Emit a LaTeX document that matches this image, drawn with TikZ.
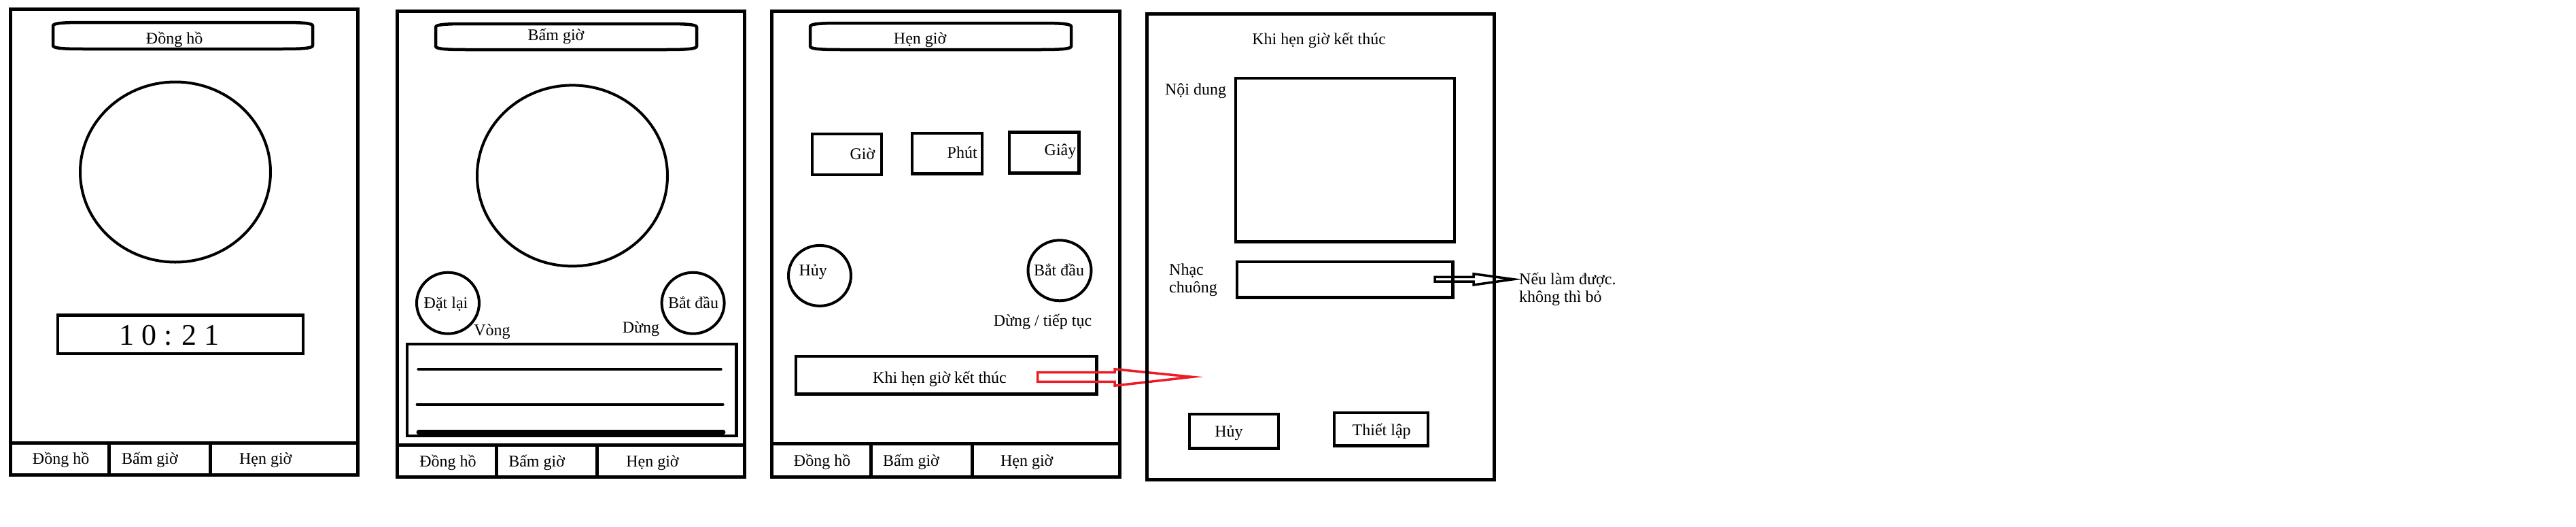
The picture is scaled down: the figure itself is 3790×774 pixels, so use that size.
\documentclass[tikz,border=0pt]{standalone}
\usepackage{fontspec}
\setmainfont{Liberation Serif}
\usetikzlibrary{shapes.geometric,calc}
\definecolor{paintred}{RGB}{237,28,36}
\tikzset{
  frame/.style={draw, line width=5pt, inner sep=0pt, outer sep=0pt},
  wbox/.style={draw, line width=4.5pt, inner sep=0pt, outer sep=0pt},
  dial/.style={draw, ellipse, line width=4pt, inner sep=0pt},
  btn/.style={draw, ellipse, line width=4pt, inner sep=0pt},
  pillline/.style={line width=4.5pt},
  txt/.style={inner sep=0pt, anchor=base, font=\fontsize{24}{27}\selectfont},
  ltxt/.style={txt, anchor=base west},
  bigtxt/.style={inner sep=0pt, anchor=base, font=\fontsize{44}{48}\selectfont},
  listline/.style={line width=4pt, line cap=round},
  hollowarrow/.style={line width=3.5pt, line join=miter},
}
\newcommand\wfbox[6]{%
  \pgfmathsetmacro\wfw{#4-#2}\pgfmathsetmacro\wfh{#5-#3}%
  \pgfmathsetmacro\wfx{(#2+#4)/2}\pgfmathsetmacro\wfy{(#3+#5)/2}%
  \node[#6, minimum width=\wfw pt, minimum height=\wfh pt] (#1) at (\wfx,\wfy) {};}
\newcommand\wfpill[5]{%
  \draw[pillline] (#2,{#3+5}) .. controls (#2,{#3+1}) and ({#2+15},#3) .. ({#2+45},#3)
    -- ({#4-45},#3) .. controls ({#4-15},#3) and (#4,{#3+1}) .. (#4,{#3+5})
    -- (#4,{#5-5}) .. controls (#4,{#5-1}) and ({#4-15},#5) .. ({#4-45},#5)
    -- ({#2+45},#5) .. controls ({#2+15},#5) and (#2,{#5-1}) .. (#2,{#5-5}) -- cycle;
  \coordinate (#1) at ({(#2+#4)/2},{(#3+#5)/2});}
\begin{document}
\begin{tikzpicture}[x=1pt,y=-1pt]
\useasboundingbox (0,0) rectangle (3790,774);
\fill[white] (0,0) rectangle (3790,774);

% ---------------- Screen 1 : Dong ho ----------------
\wfbox{sa}{15.7}{13.5}{526}{651.5}{frame}
\wfbox{sa-tab1}{15.7}{651.5}{160}{698}{frame}
\wfbox{sa-tab2}{160}{651.5}{309}{698}{frame}
\wfbox{sa-tab3}{309}{651.5}{526}{698}{frame}
\wfpill{sa-pill}{78}{33}{460}{72}
\node[txt] (sa-title) at (256.6,64) {Đồng hồ};
\node[dial, minimum width=280pt, minimum height=265pt] (sa-dial) at (258,253) {};
\wfbox{sa-time}{85}{463.5}{446}{520}{wbox}
\node[bigtxt] (sa-timetxt) at (249,507) {1 0 : 2 1};
\node[txt] (sa-l1) at (89.6,682) {Đồng hồ};
\node[txt] (sa-l2) at (220.5,682) {Bấm giờ};
\node[txt] (sa-l3) at (390.7,682) {Hẹn giờ};

% ---------------- Screen 2 : Bam gio ----------------
\wfbox{sb}{584}{16.3}{1095.5}{654}{frame}
\wfbox{sb-tab1}{584}{654}{730}{701}{frame}
\wfbox{sb-tab2}{730}{654}{878}{701}{frame}
\wfbox{sb-tab3}{878}{654}{1095.5}{701}{frame}
\wfpill{sb-pill}{641}{35}{1025}{73}
\node[txt] (sb-title) at (818,59) {Bấm giờ};
\node[dial, minimum width=280pt, minimum height=266pt] (sb-dial) at (842,258.4) {};
\node[btn, minimum width=92pt, minimum height=90pt] (sb-reset) at (659,445.7) {};
\node[txt] (sb-resett) at (656,453) {Đặt lại};
\node[btn, minimum width=92pt, minimum height=90pt] (sb-start) at (1019.6,445.7) {};
\node[txt] (sb-startt) at (1020,453) {Bắt đầu};
\node[txt] (sb-lap) at (724,493.6) {Vòng};
\node[txt] (sb-stop) at (943,489.6) {Dừng};
\wfbox{sb-list}{599}{506}{1083.5}{641}{wbox}
\coordinate (sb-a1) at (615.4,543); \coordinate (sb-b1) at (1060.7,543);
\coordinate (sb-a2) at (613.6,594.8); \coordinate (sb-b2) at (1063.6,594.8);
\coordinate (sb-a3) at (616,635.7); \coordinate (sb-b3) at (1064,635.7);
\draw[listline] (sb-a1) -- (sb-b1);
\draw[listline] (sb-a2) -- (sb-b2);
\draw[listline, line width=7pt] (sb-a3) -- (sb-b3);
\node[txt] (sb-l1) at (659,686) {Đồng hồ};
\node[txt] (sb-l2) at (789.6,686) {Bấm giờ};
\node[txt] (sb-l3) at (960,686) {Hẹn giờ};

% ---------------- Screen 3 : Hen gio ----------------
\wfbox{sc}{1135}{16}{1647}{652.5}{frame}
\wfbox{sc-tab1}{1135}{652.5}{1281}{701}{frame}
\wfbox{sc-tab2}{1281}{652.5}{1430}{701}{frame}
\wfbox{sc-tab3}{1430}{652.5}{1647}{701}{frame}
\wfpill{sc-pill}{1192}{34}{1576}{73}
\node[txt] (sc-title) at (1353.6,64) {Hẹn giờ};
\wfbox{sc-h}{1195}{197}{1297}{257}{wbox}
\node[txt] (sc-ht) at (1268.9,234.5) {Giờ};
\wfbox{sc-m}{1342}{196}{1445}{255.5}{wbox}
\node[txt] (sc-mt) at (1415.7,232) {Phút};
\wfbox{sc-s}{1485}{194.5}{1587.5}{254.5}{wbox}
\node[txt] (sc-st) at (1560,228) {Giây};
\node[btn, minimum width=92pt, minimum height=89pt] (sc-cancel) at (1206,405.4) {};
\node[txt] (sc-cancelt) at (1196.2,405) {Hủy};
\node[btn, minimum width=93pt, minimum height=89pt] (sc-start) at (1559,397.8) {};
\node[txt] (sc-startt) at (1558,405.7) {Bắt đầu};
\node[txt] (sc-pause) at (1534,479) {Dừng / tiếp tục};
\wfbox{sc-end}{1171}{524}{1613.5}{579.5}{wbox}
\node[txt] (sc-endt) at (1382.5,563.7) {Khi hẹn giờ kết thúc};
\node[txt] (sc-l1) at (1209.6,685) {Đồng hồ};
\node[txt] (sc-l2) at (1340.5,685) {Bấm giờ};
\node[txt] (sc-l3) at (1510.7,685) {Hẹn giờ};

% red hollow arrow from "Khi hen gio ket thuc" to screen 4
\coordinate (ra-tail) at (1526.7,554.5);
\coordinate (ra-tip) at (1754,554.3);
\draw[hollowarrow, paintred] ($(ra-tail)+(0,-6.8)$) -- (1640,547.7) -- (1640,542.8) -- (ra-tip)
  -- (1640,567.2) -- (1640,561.3) -- ($(ra-tail)+(0,6.8)$) -- cycle;

% ---------------- Screen 4 : Khi hen gio ket thuc ----------------
\wfbox{sd}{1687}{20}{2198}{705}{frame}
\node[txt] (sd-title) at (1940.6,65.6) {Khi hẹn giờ kết thúc};
\node[txt] (sd-content) at (1759,139) {Nội dung};
\wfbox{sd-cbox}{1818}{115}{2140}{355.5}{wbox}
\node[ltxt] (sd-ring1) at (1720,404) {Nhạc};
\node[ltxt] (sd-ring2) at (1720,430) {chuông};
\wfbox{sd-rbox}{1820}{385}{2137.6}{437.3}{wbox}
\wfbox{sd-cancel}{1750}{609}{1881}{659.4}{wbox}
\node[txt] (sd-cancelt) at (1808,642.6) {Hủy};
\wfbox{sd-set}{1963}{607}{2101}{655.5}{wbox}
\node[txt] (sd-sett) at (2032.7,640.7) {Thiết lập};
\node[ltxt] (sd-note1) at (2235,418) {Nếu làm được.};
\node[ltxt] (sd-note2) at (2235,444) {không thì bỏ};

% black hollow arrow from ring box to note
\coordinate (ba-tail) at (2111,410.7);
\coordinate (ba-tip) at (2226.7,410.7);
\draw[hollowarrow] ($(ba-tail)+(0,-3.4)$) -- (2168,407.3) -- (2168,402.7) -- (ba-tip)
  -- (2168,419) -- (2168,414) -- ($(ba-tail)+(0,3.4)$) -- cycle;
\end{tikzpicture}
\end{document}
